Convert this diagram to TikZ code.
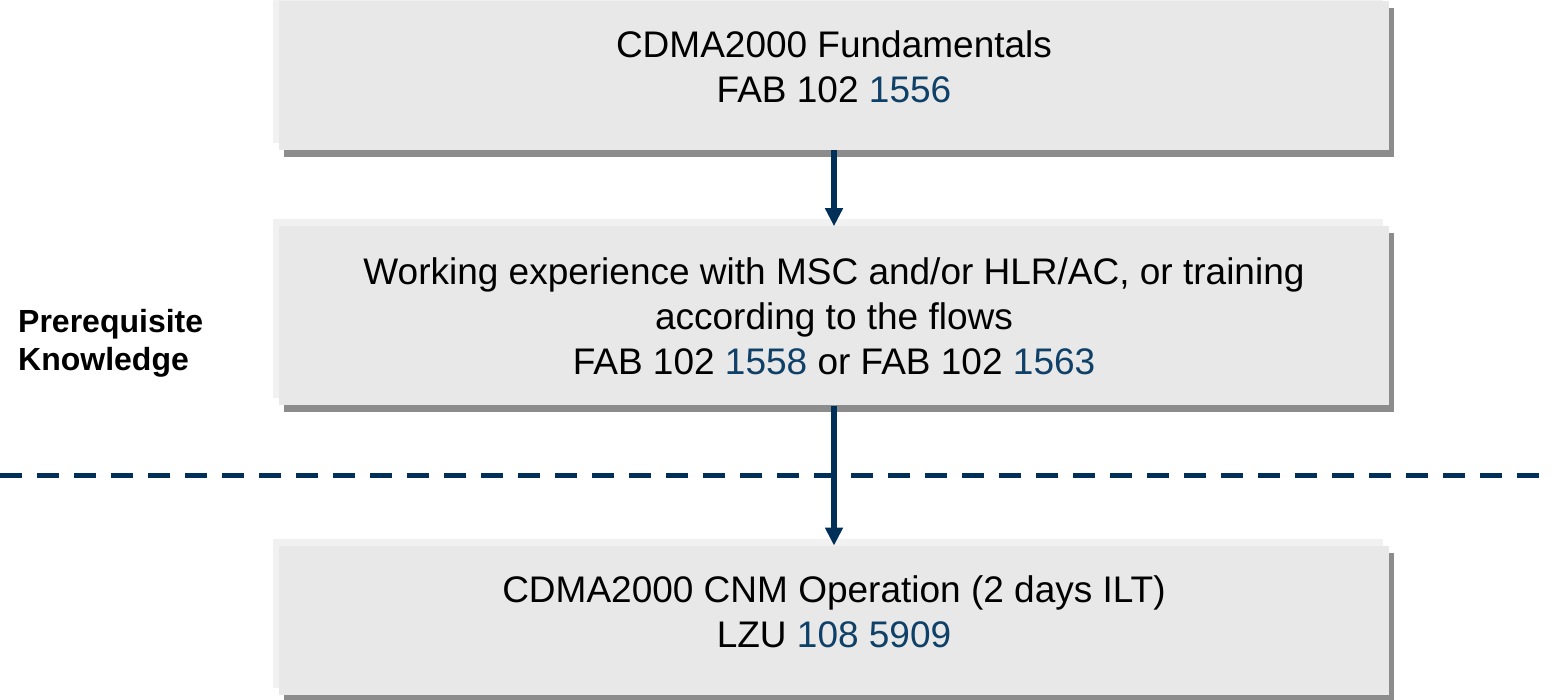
\documentclass[tikz,border=0pt]{standalone}
\usepackage{fontspec}
\setmainfont{Liberation Sans}
\usepackage{tikz}
\usetikzlibrary{arrows.meta,positioning,shadows}
\definecolor{boxgrey}{RGB}{232,232,232}
\definecolor{panelgrey}{RGB}{241,241,241}
\definecolor{shadowgrey}{RGB}{140,140,140}
\definecolor{navy}{RGB}{0,48,87}
\definecolor{numblue}{RGB}{14,64,104}
\newcommand{\coursenum}[1]{\textcolor{numblue}{#1}}
\tikzset{
    x=1pt,y=1pt,
    course/.style={rectangle, fill=boxgrey, minimum width=1110pt, inner sep=0pt, align=center,
        font=\fontsize{37}{45}\selectfont,
        copy shadow={shadow xshift=-6pt, shadow yshift=7pt, fill=panelgrey, draw=none},
        drop shadow={shadow xshift=5pt, shadow yshift=-7pt, fill=shadowgrey, opacity=1}},
    raised/.style={text depth=18pt},
    flow/.style={navy, line width=6pt, -{Triangle[width=17pt,length=18pt]}},
    divider/.style={navy, line width=5pt, dash pattern=on 22pt off 15pt},
    side/.style={font=\bfseries\fontsize{32}{38}\selectfont, align=left, inner sep=0pt}
}

\begin{document}
\begin{tikzpicture}
    \useasboundingbox (0,0) rectangle (1553,-699);

    \node[course, minimum height=149pt, raised] (fund) at (834,-75.5)
        {CDMA2000 Fundamentals\\FAB 102 \coursenum{1556}};
    \node[course, minimum height=179pt, below=76pt of fund] (work)
        {Working experience with MSC and/or HLR/AC, or training\\according to the flows\\FAB 102 \coursenum{1558} or FAB 102 \coursenum{1563}};
    \node[course, minimum height=149pt, raised, below=140pt of work] (cnm)
        {CDMA2000 CNM Operation (2 days ILT)\\LZU \coursenum{108 5909}};

    \node[side, anchor=north west] (prereq) at (18,-309) {Prerequisite\\Knowledge};

    % line between prerequisites and the course
    \coordinate (cutl) at (0,-475);
    \coordinate (cutr) at (1553,-475);
    \draw[divider] (cutl) -- (cutr);

    \draw[flow] (fund) -- (work);
    \draw[flow] (work) -- (cnm);
\end{tikzpicture}
\end{document}
